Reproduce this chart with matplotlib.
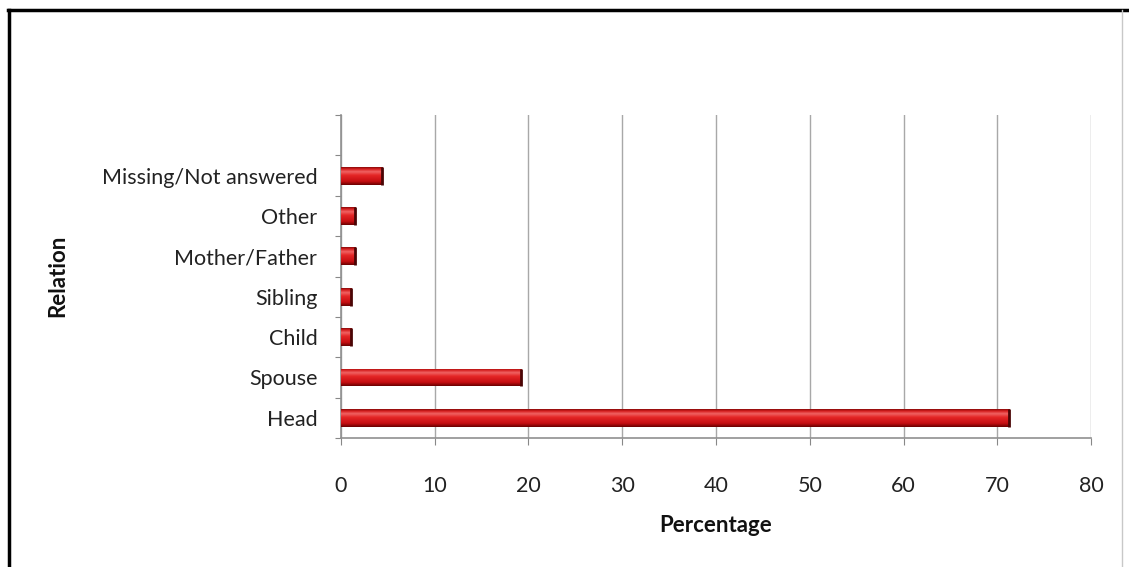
import numpy as np
import matplotlib
matplotlib.use("Agg")
from matplotlib import pyplot as plt
from matplotlib.colors import LinearSegmentedColormap
from matplotlib.lines import Line2D

relations = ["Head", "Spouse", "Child", "Sibling", "Mother/Father", "Other", "Missing/Not answered"]
percentages = [71.3, 19.2, 1.1, 1.1, 1.5, 1.5, 4.4]
x_ticks = [0, 10, 20, 30, 40, 50, 60, 70, 80]

plt.rcParams['font.family'] = ['Lato', 'DejaVu Sans']

# cylinder-like shading for each bar, light band near the top
shade = LinearSegmentedColormap.from_list("shade", [
	(0.0, "#6a0000"), (0.2, "#c60e12"), (0.55, "#e42626"),
	(0.75, "#f06464"), (0.9, "#d41c1c"), (1.0, "#8a0a0a")])


def main():
	fig = plt.figure(figsize = (11.29, 5.67), dpi = 100)
	ax = fig.add_axes([0.302, 0.2275, 0.6644, 0.5695])

	pos = np.arange(len(relations))
	bars = ax.barh(pos, percentages, height = 0.44, color = "none", edgecolor = "none", zorder = 3)
	grad = np.linspace(0, 1, 64).reshape(-1, 1)
	for bar in bars:
		x0, y0 = bar.get_x(), bar.get_y()
		w, h = bar.get_width(), bar.get_height()
		im = ax.imshow(grad, cmap = shade, aspect = "auto", zorder = 3,
			extent = [x0, x0 + w, y0, y0 + h], origin = "lower", interpolation = "bilinear")
		im.set_clip_path(bar)
		ax.plot([x0 + w, x0 + w], [y0, y0 + h], color = "#4a0505", lw = 2, zorder = 4,
			solid_capstyle = "butt")

	ax.set_xlim(0, 80)
	ax.set_ylim(-0.5, 7.5)
	ax.set_xticks(x_ticks)
	ax.set_xticklabels([str(t) for t in x_ticks], fontsize = 15.5, color = "#222222")
	ax.set_yticks(np.arange(-0.5, 7.6, 1.0))
	ax.set_yticklabels([])
	ax.set_yticks(pos, minor = True)
	ax.set_yticklabels(relations, minor = True, fontsize = 15.5, color = "#222222")
	ax.tick_params(axis = "y", which = "minor", length = 0, pad = 17)
	ax.tick_params(axis = "y", which = "major", length = 4, color = "#888888", direction = "out")
	ax.tick_params(axis = "x", length = 5, color = "#888888", direction = "out", pad = 22)

	ax.grid(axis = "x", color = "#a8a8a8", lw = 1.0, zorder = 0)
	for side in ["top", "right"]:
		ax.spines[side].set_visible(False)
	for side in ["left", "bottom"]:
		ax.spines[side].set_color("#909090")
		ax.spines[side].set_linewidth(1.2)

	ax.set_xlabel("Percentage", fontsize = 16, fontweight = "bold", labelpad = 14, color = "#111111")
	fig.text(0.0514, 0.513, "Relation", rotation = 90, fontsize = 16, fontweight = "bold",
		ha = "center", va = "center", color = "#111111")

	# outer frame
	fig.add_artist(Line2D([0.007, 1.0], [0.982, 0.982], color = "black", lw = 2.5))
	fig.add_artist(Line2D([0.008, 0.008], [0.0, 0.982], color = "black", lw = 2.5))
	fig.add_artist(Line2D([0.9938, 0.9938], [0.0, 0.982], color = "#c8c8c8", lw = 1.0))

	fig.savefig("out.png", dpi = 100)


if __name__ == '__main__':
	main()
